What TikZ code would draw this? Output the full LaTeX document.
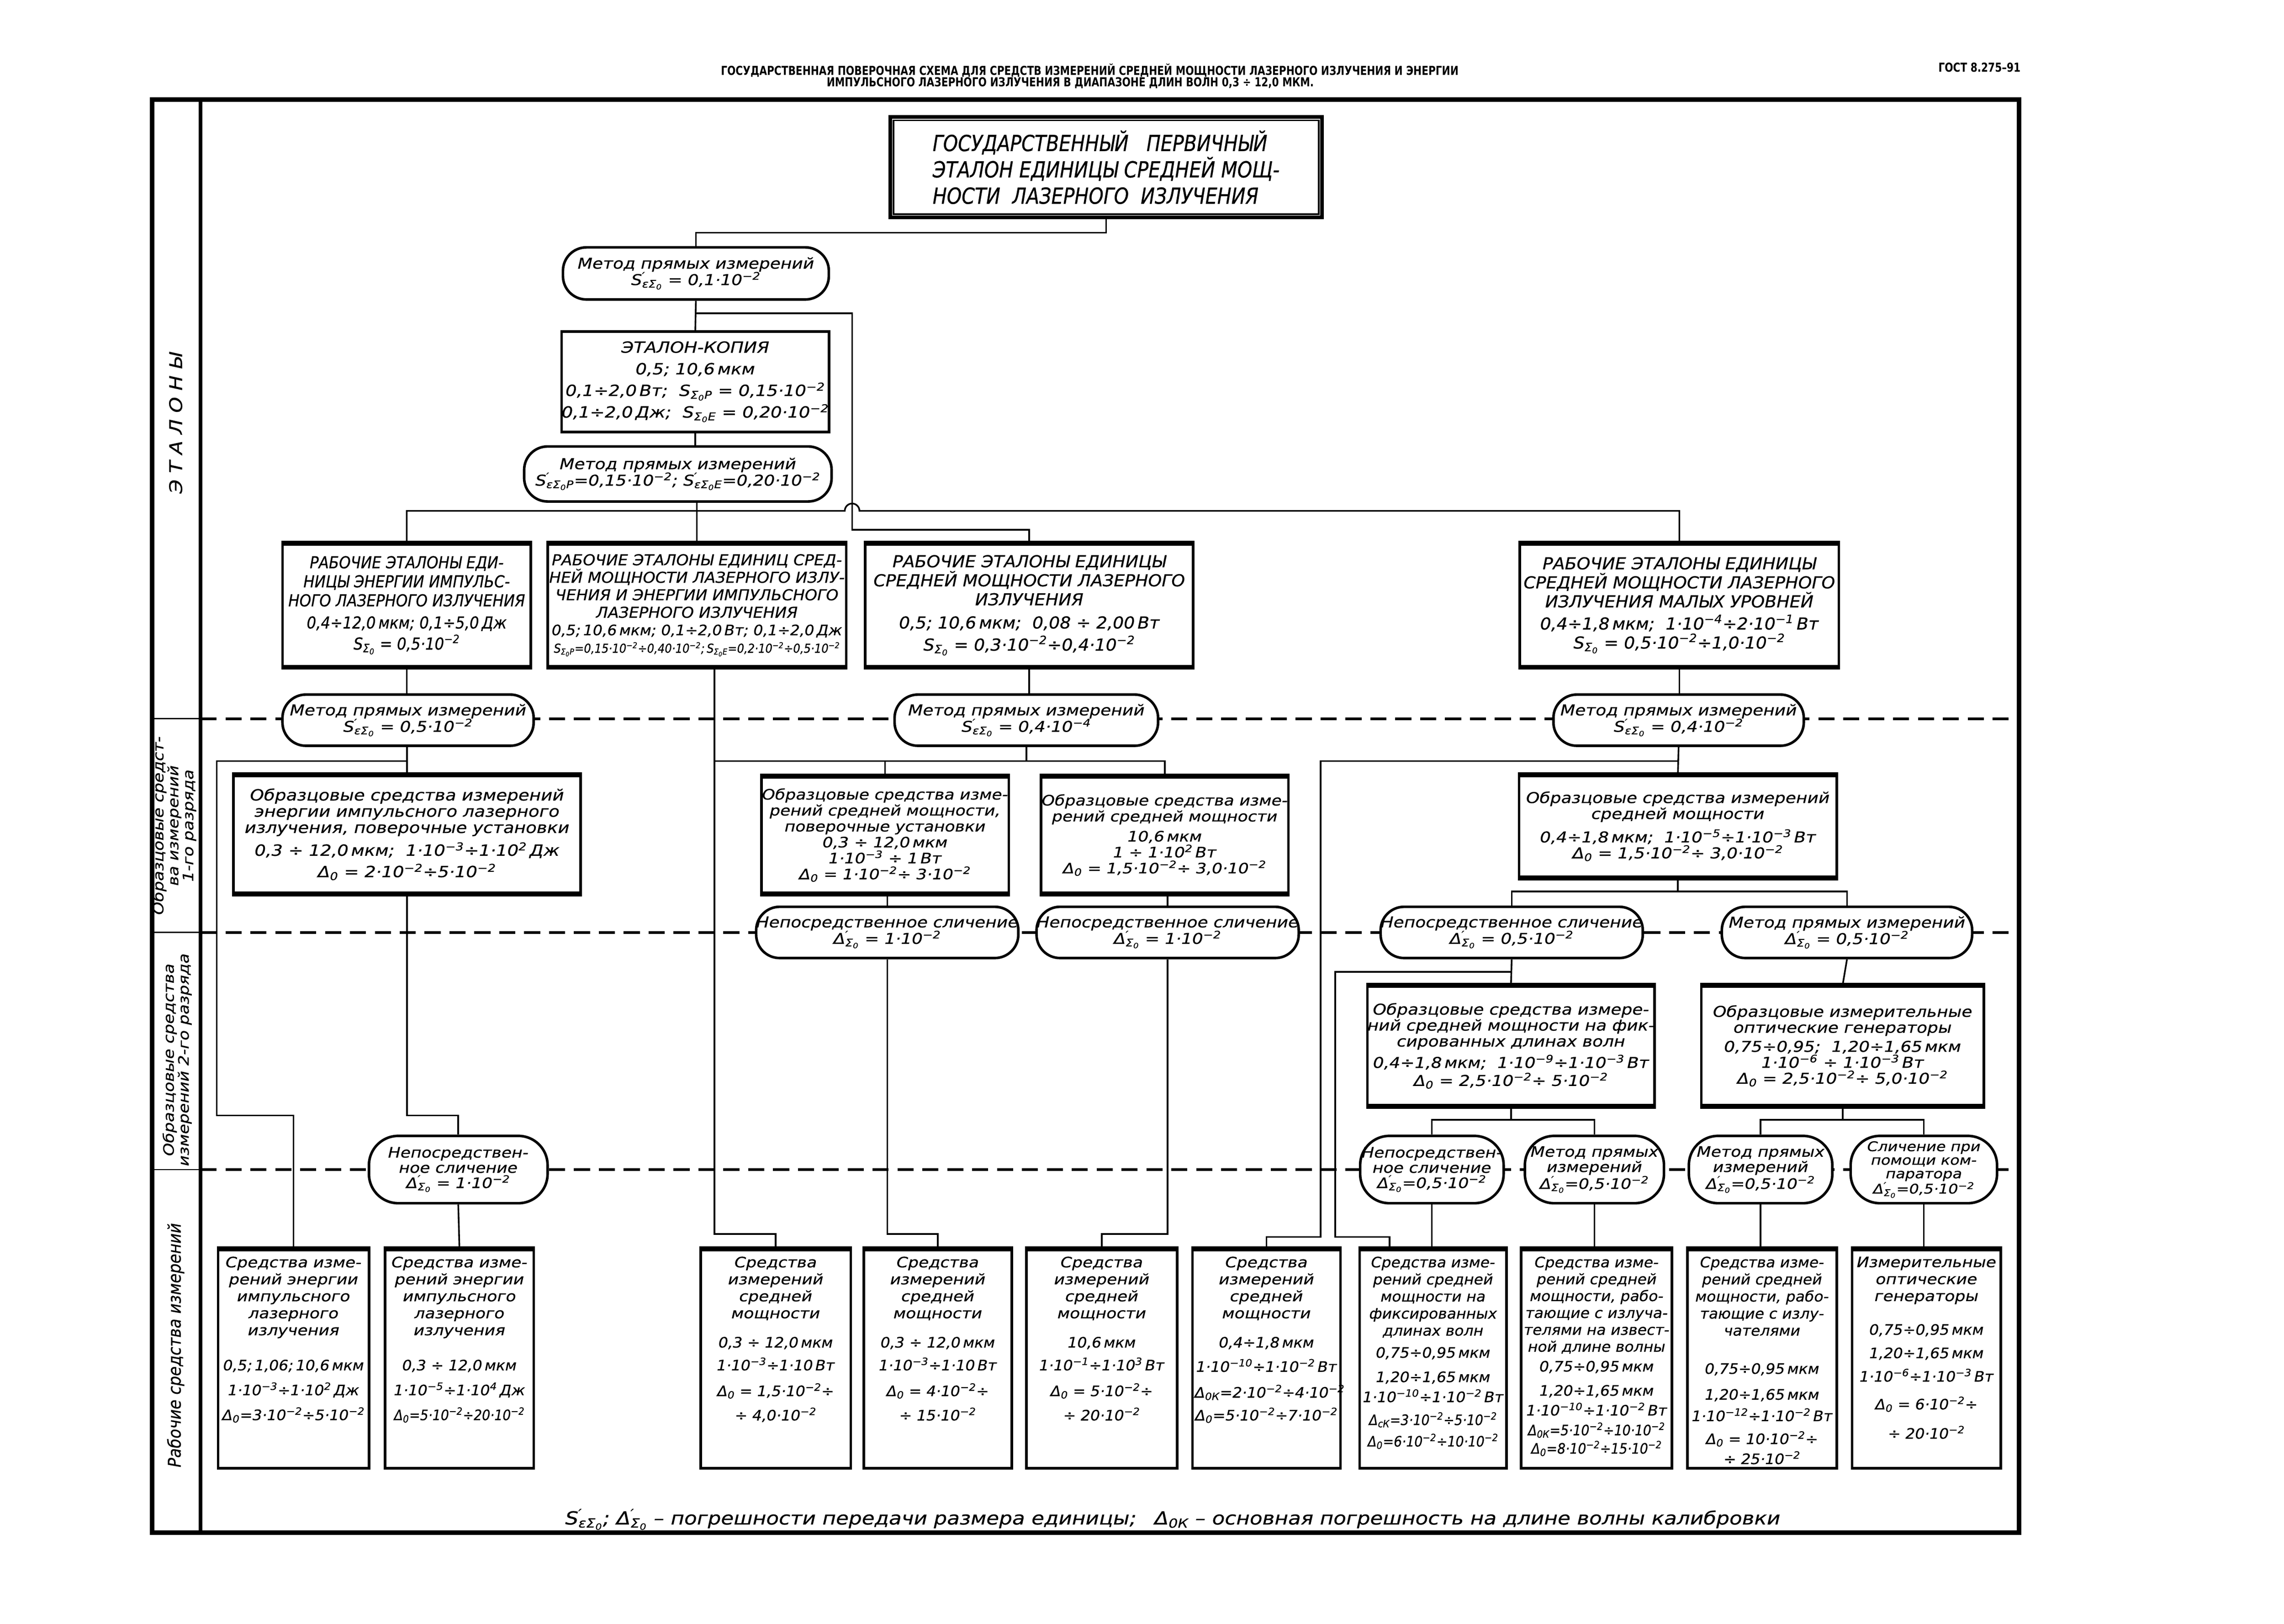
\documentclass[tikz,border=0pt]{standalone}
\usepackage{fontspec}
\newfontfamily\gostt{DejaVu Sans}[FakeStretch=0.85, FakeBold=0.6]
\newfontfamily\gostn{DejaVu Sans}[FakeStretch=0.9, FakeBold=0.6]
\newfontfamily\gostm{DejaVu Sans}[FakeStretch=1.05, FakeBold=0.6]
\newfontfamily\gostw{DejaVu Sans}[FakeStretch=1.15, FakeBold=0.6]
\newfontfamily\headf{DejaVu Sans}[FakeStretch=0.8]
\newcommand{\pw}[1]{\textsuperscript{#1}}
\newcommand{\ix}[1]{\textsubscript{#1}}
\newcommand{\dS}[1][]{S\rlap{\pw{′}}\ix{εΣ\ix{0}#1}}
\newcommand{\dD}{Δ\rlap{\pw{′}}\ix{Σ\ix{0}}}
\newcommand{\sZ}[1][]{S\ix{Σ\ix{0}#1}}
\newcommand{\rtext}[2]{\parbox[t][7cm][t]{#1}{\centering #2}}
\tikzset{
  conn/.style={line width=1.6pt},
  etbox/.style={draw, line width=2.5pt, fill=white, align=center, inner sep=0pt,
    font=\gostn\itshape\fontsize{16}{18.5}\selectfont},
  obbox/.style={draw, line width=2.5pt, fill=white, align=center, inner sep=0pt,
    font=\gostw\itshape\fontsize{14.5}{15.5}\selectfont},
  meth/.style={draw, line width=2.5pt, fill=white, rounded corners=0.8cm, align=center,
    inner sep=0pt, font=\gostw\itshape\fontsize{14.5}{16}\selectfont},
  tallmeth/.style={meth, rounded corners=1cm, minimum height=2.3cm,
    font=\gostw\itshape\fontsize{14}{14.8}\selectfont},
  rbox/.style={draw, line width=2.5pt, fill=white, inner sep=0pt, minimum height=7.45cm,
    font=\gostw\itshape\fontsize{14}{16.5}\selectfont},
  rowline/.style={line width=2.8pt, dash pattern=on 0.55cm off 0.3cm},
  sidelab/.style={rotate=90, align=center, font=\gostw\itshape\fontsize{14}{14.5}\selectfont},
  headlab/.style={font=\headf\bfseries\fontsize{12}{12.5}\selectfont, inner sep=0pt},
}
\begin{document}
\begin{tikzpicture}[x=0.05cm, y=-0.05cm]
\useasboundingbox (0,0) rectangle (1560,1109.3);

% заголовок
\node[headlab] (hd1) at (744.3,48) {ГОСУДАРСТВЕННАЯ ПОВЕРОЧНАЯ СХЕМА ДЛЯ СРЕДСТВ ИЗМЕРЕНИЙ СРЕДНЕЙ МОЩНОСТИ ЛАЗЕРНОГО ИЗЛУЧЕНИЯ И ЭНЕРГИИ};
\node[headlab] (hd2) at (731,56.5) {ИМПУЛЬСНОГО ЛАЗЕРНОГО ИЗЛУЧЕНИЯ В ДИАПАЗОНЕ ДЛИН ВОЛН 0,3 ÷ 12,0 МКМ.};
\node[headlab] (gost) at (1352,46) {ГОСТ 8.275–91};

% рамка и уровни
\draw[line width=4.5pt] (104,68) rectangle (1379,1047);
\draw[line width=3.5pt] (137,68) -- (137,1047);
\foreach \yy in {491,637,799} {
  \draw[rowline] (137,\yy) -- (1379,\yy);
  \draw[line width=1.2pt] (104,\yy) -- (137,\yy);
}

\node[sidelab, font=\gostw\itshape\fontsize{17}{18}\selectfont] (labet) at (120,289) {Э\ Т\ А\ Л\ О\ Н\ Ы};
\node[sidelab] (labob1) at (119,564) {Образцовые средст-\\ва измерений\\1-го разряда};
\node[sidelab] (labob2) at (121,724) {Образцовые средства\\измерений 2-го разряда};
\node[sidelab, font=\gostn\itshape\fontsize{17}{18}\selectfont] (labrab) at (120,919) {Рабочие средства измерений};

% эталоны
\node[draw, line width=3.5pt, fill=white, minimum width=14.75cm, minimum height=3.43cm, align=left,
  font=\gostt\itshape\fontsize{21.5}{25.6}\selectfont] (top) at (755.5,114.3)
  {ГОСУДАРСТВЕННЫЙ\ \ \ ПЕРВИЧНЫЙ\\ЭТАЛОН ЕДИНИЦЫ СРЕДНЕЙ МОЩ-\\НОСТИ\ \ ЛАЗЕРНОГО\ \ ИЗЛУЧЕНИЯ};
\draw[line width=1.4pt] ([shift={(3.5,3.5)}]top.north west) rectangle ([shift={(-3.5,-3.5)}]top.south east);

\node[meth, minimum width=9.08cm, minimum height=1.78cm] (m1) at (475.3,186.8)
  {Метод прямых измерений\\\dS\ = 0,1·10\pw{−2}};
\node[obbox, minimum width=9.12cm, minimum height=3.43cm, font=\gostw\itshape\fontsize{15}{21}\selectfont] (ek) at (474.9,260.8)
  {ЭТАЛОН-КОПИЯ\\0,5;\ 10,6\,мкм\\0,1÷2,0\,Вт;\ \ \sZ[P] = 0,15·10\pw{−2}\\0,1÷2,0\,Дж;\ \ \sZ[E] = 0,20·10\pw{−2}};
\node[meth, minimum width=10.5cm, minimum height=1.88cm] (m2p) at (463,323.8)
  {Метод прямых измерений\\\dS[P]=0,15·10\pw{−2};\ \dS[E]=0,20·10\pw{−2}};

\node[etbox, minimum width=8.48cm, minimum height=4.15cm] (wa) at (277.8,413.5)
  {РАБОЧИЕ ЭТАЛОНЫ ЕДИ-\\НИЦЫ ЭНЕРГИИ ИМПУЛЬС-\\НОГО ЛАЗЕРНОГО ИЗЛУЧЕНИЯ\\[3pt]0,4÷12,0\,мкм;\ 0,1÷5,0\,Дж\\[2pt]\sZ\ = 0,5·10\pw{−2}};
\node[etbox, minimum width=10.2cm, minimum height=4.15cm, font=\gostm\itshape\fontsize{14.6}{17}\selectfont] (wb) at (476,413.5)
  {РАБОЧИЕ ЭТАЛОНЫ ЕДИНИЦ СРЕД-\\НЕЙ МОЩНОСТИ ЛАЗЕРНОГО ИЗЛУ-\\ЧЕНИЯ И ЭНЕРГИИ ИМПУЛЬСНОГО\\ЛАЗЕРНОГО ИЗЛУЧЕНИЯ\\{\fontsize{14}{17}\selectfont 0,5;\,10,6\,мкм;\ 0,1÷2,0\,Вт;\ 0,1÷2,0\,Дж}\\
  {\gostn\fontsize{12}{13}\selectfont\sZ[P]=0,15·10\pw{−2}÷0,40·10\pw{−2};\,\sZ[E]=0,2·10\pw{−2}÷0,5·10\pw{−2}}};
\node[etbox, minimum width=11.2cm, minimum height=4.15cm, font=\gostm\itshape\fontsize{16}{18.5}\selectfont] (wc) at (703,413.5)
  {РАБОЧИЕ ЭТАЛОНЫ ЕДИНИЦЫ\\СРЕДНЕЙ МОЩНОСТИ ЛАЗЕРНОГО\\ИЗЛУЧЕНИЯ\\[4pt]0,5;\ 10,6\,мкм;\ \ 0,08 ÷ 2,00\,Вт\\[3pt]\sZ\ = 0,3·10\pw{−2}÷0,4·10\pw{−2}};
\node[etbox, minimum width=10.9cm, minimum height=4.15cm, font=\gostm\itshape\fontsize{16}{18.5}\selectfont] (wd) at (1147,413.5)
  {РАБОЧИЕ ЭТАЛОНЫ ЕДИНИЦЫ\\СРЕДНЕЙ МОЩНОСТИ ЛАЗЕРНОГО\\ИЗЛУЧЕНИЯ МАЛЫХ УРОВНЕЙ\\[3pt]0,4÷1,8\,мкм;\ \ 1·10\pw{−4}÷2·10\pw{−1}\,Вт\\\sZ\ = 0,5·10\pw{−2}÷1,0·10\pw{−2}};

% образцовые 1-го разряда
\node[meth, minimum width=8.58cm, minimum height=1.75cm] (l1) at (278.7,492)
  {Метод прямых измерений\\\dS\ = 0,5·10\pw{−2}};
\node[meth, minimum width=9.0cm, minimum height=1.75cm] (mm) at (701,492)
  {Метод прямых измерений\\\dS\ = 0,4·10\pw{−4}};
\node[meth, minimum width=8.55cm, minimum height=1.75cm] (mrt) at (1146.5,492)
  {Метод прямых измерений\\\dS\ = 0,4·10\pw{−2}};

\node[obbox, minimum width=11.85cm, minimum height=4.0cm, font=\gostw\itshape\fontsize{15}{15.8}\selectfont] (es) at (278,570)
  {Образцовые средства измерений\\энергии импульсного лазерного\\излучения, поверочные установки\\[5pt]0,3 ÷ 12,0\,мкм;\ \ 1·10\pw{−3}÷1·10\pw{2}\,Дж\\[5pt]Δ\ix{0} = 2·10\pw{−2}÷5·10\pw{−2}};
\node[obbox, minimum width=8.45cm, minimum height=3.95cm, font=\gostw\itshape\fontsize{14}{15.5}\selectfont] (om1) at (604.5,570.5)
  {Образцовые средства изме-\\рений средней мощности,\\поверочные установки\\0,3 ÷ 12,0\,мкм\\1·10\pw{−3} ÷ 1\,Вт\\Δ\ix{0} = 1·10\pw{−2}÷ 3·10\pw{−2}};
\node[obbox, minimum width=8.45cm, minimum height=3.95cm, font=\gostw\itshape\fontsize{14}{15.5}\selectfont] (om2) at (795.5,570.5)
  {Образцовые средства изме-\\рений средней мощности\\[4pt]10,6\,мкм\\1 ÷ 1·10\pw{2}\,Вт\\Δ\ix{0} = 1,5·10\pw{−2}÷ 3,0·10\pw{−2}};
\node[obbox, minimum width=10.85cm, minimum height=3.45cm] (or1) at (1146,564.5)
  {Образцовые средства измерений\\средней мощности\\[6pt]0,4÷1,8\,мкм;\ \ 1·10\pw{−5}÷1·10\pw{−3}\,Вт\\Δ\ix{0} = 1,5·10\pw{−2}÷ 3,0·10\pw{−2}};

\node[meth, minimum width=8.4cm, minimum height=1.75cm] (ns1) at (606,637)
  {Непосредственное сличение\\\dD\ = 1·10\pw{−2}};
\node[meth, minimum width=8.45cm, minimum height=1.75cm] (ns2) at (797.5,637)
  {Непосредственное сличение\\\dD\ = 1·10\pw{−2}};
\node[meth, minimum width=8.35cm, minimum height=1.75cm] (ns3) at (1032.5,637)
  {Непосредственное сличение\\\dD\ = 0,5·10\pw{−2}};
\node[meth, minimum width=8.55cm, minimum height=1.75cm] (mr) at (1261.5,637)
  {Метод прямых измерений\\\dD\ = 0,5·10\pw{−2}};

% образцовые 2-го разряда
\node[obbox, minimum width=9.65cm, minimum height=4.05cm] (of) at (1032,714.5)
  {Образцовые средства измере-\\ний средней мощности на фик-\\сированных длинах волн\\[4pt]0,4÷1,8\,мкм;\ \ 1·10\pw{−9}÷1·10\pw{−3}\,Вт\\[2pt]Δ\ix{0} = 2,5·10\pw{−2}÷ 5·10\pw{−2}};
\node[obbox, minimum width=9.65cm, minimum height=4.05cm] (og) at (1258.5,714.5)
  {Образцовые измерительные\\оптические генераторы\\[3pt]0,75÷0,95;\ \ 1,20÷1,65\,мкм\\1·10\pw{−6} ÷ 1·10\pw{−3}\,Вт\\Δ\ix{0} = 2,5·10\pw{−2}÷ 5,0·10\pw{−2}};

\node[tallmeth, minimum width=6.1cm] (nsl) at (313,799)
  {Непосредствен-\\ное сличение\\\dD\ = 1·10\pw{−2}};
\node[tallmeth, minimum width=4.9cm] (na) at (978,799)
  {Непосредствен-\\ное сличение\\\dD=0,5·10\pw{−2}};
\node[tallmeth, minimum width=4.75cm] (nb) at (1089,799)
  {Метод прямых\\измерений\\\dD=0,5·10\pw{−2}};
\node[tallmeth, minimum width=4.9cm] (nc) at (1202.5,799)
  {Метод прямых\\измерений\\\dD=0,5·10\pw{−2}};
\node[tallmeth, minimum width=5.0cm, font=\gostw\itshape\fontsize{13}{13.2}\selectfont] (nd) at (1314,799)
  {Сличение при\\помощи ком-\\паратора\\\dD=0,5·10\pw{−2}};

% рабочие средства измерений
\node[rbox, minimum width=5.15cm] (w1) at (200.5,928.5) {\rtext{5.0cm}{Средства изме-\\рений энергии\\импульсного\\лазерного\\излучения\\[0.62cm]\gostm 0,5;\,1,06;\,10,6\,мкм\\[0.27cm]1·10\pw{−3}÷1·10\pw{2}\,Дж\\[0.27cm]Δ\ix{0}=3·10\pw{−2}÷5·10\pw{−2}}};
\node[rbox, minimum width=5.08cm] (w2) at (313.8,928.5) {\rtext{4.95cm}{Средства изме-\\рений энергии\\импульсного\\лазерного\\излучения\\[0.62cm]\gostm 0,3 ÷ 12,0\,мкм\\[0.27cm]1·10\pw{−5}÷1·10\pw{4}\,Дж\\[0.27cm]{\gostn Δ\ix{0}=5·10\pw{−2}÷20·10\pw{−2}}}};
\node[rbox, minimum width=5.13cm] (w3) at (529.8,928.5) {\rtext{5.0cm}{Средства\\измерений\\средней\\мощности\\[0.42cm]\gostm 0,3 ÷ 12,0\,мкм\\[0.2cm]1·10\pw{−3}÷1·10\,Вт\\[0.3cm]Δ\ix{0} = 1,5·10\pw{−2}÷\\[0.25cm]÷ 4,0·10\pw{−2}}};
\node[rbox, minimum width=5.05cm] (w4) at (640.5,928.5) {\rtext{4.9cm}{Средства\\измерений\\средней\\мощности\\[0.42cm]\gostm 0,3 ÷ 12,0\,мкм\\[0.2cm]1·10\pw{−3}÷1·10\,Вт\\[0.3cm]Δ\ix{0} = 4·10\pw{−2}÷\\[0.25cm]÷ 15·10\pw{−2}}};
\node[rbox, minimum width=5.15cm] (w5) at (752.5,928.5) {\rtext{5.0cm}{Средства\\измерений\\средней\\мощности\\[0.42cm]\gostm 10,6\,мкм\\[0.2cm]1·10\pw{−1}÷1·10\pw{3}\,Вт\\[0.3cm]Δ\ix{0} = 5·10\pw{−2}÷\\[0.25cm]÷ 20·10\pw{−2}}};
\node[rbox, minimum width=5.05cm] (w6) at (865,928.5) {\rtext{4.9cm}{Средства\\измерений\\средней\\мощности\\[0.42cm]\gostm 0,4÷1,8\,мкм\\[0.25cm]1·10\pw{−10}÷1·10\pw{−2}\,Вт\\[0.3cm]Δ\ix{0К}=2·10\pw{−2}÷4·10\pw{−2}\\[0.2cm]Δ\ix{0}=5·10\pw{−2}÷7·10\pw{−2}}};
\node[rbox, minimum width=5.02cm, font=\gostm\itshape\fontsize{14}{16.6}\selectfont] (w7) at (978.8,928.5) {\rtext{4.9cm}{Средства изме-\\рений средней\\мощности на\\фиксированных\\длинах волн\\[0.17cm]0,75÷0,95\,мкм\\[0.25cm]1,20÷1,65\,мкм\\[0.1cm]1·10\pw{−10}÷1·10\pw{−2}\,Вт\\[0.2cm]{\gostn Δ\ix{сК}=3·10\pw{−2}÷5·10\pw{−2}}\\[0.15cm]{\gostn Δ\ix{0}=6·10\pw{−2}÷10·10\pw{−2}}}};
\node[rbox, minimum width=5.15cm, font=\gostm\itshape\fontsize{14}{16.4}\selectfont] (w8) at (1090.5,928.5) {\rtext{5.05cm}{Средства изме-\\рений средней\\мощности, рабо-\\тающие с излуча-\\телями на извест-\\ной длине волны\\[0.1cm]0,75÷0,95\,мкм\\[0.25cm]1,20÷1,65\,мкм\\[0.1cm]1·10\pw{−10}÷1·10\pw{−2}\,Вт\\[0.1cm]{\gostn Δ\ix{0К}=5·10\pw{−2}÷10·10\pw{−2}}\\[0.05cm]{\gostn Δ\ix{0}=8·10\pw{−2}÷15·10\pw{−2}}}};
\node[rbox, minimum width=5.1cm, font=\gostm\itshape\fontsize{14}{16.6}\selectfont] (w9) at (1203.5,928.5) {\rtext{5.0cm}{Средства изме-\\рений средней\\мощности, рабо-\\тающие с излу-\\чателями\\[0.72cm]0,75÷0,95\,мкм\\[0.3cm]1,20÷1,65\,мкм\\[0.15cm]1·10\pw{−12}÷1·10\pw{−2}\,Вт\\[0.2cm]Δ\ix{0} = 10·10\pw{−2}÷\\[0.1cm]÷ 25·10\pw{−2}}};
\node[rbox, minimum width=5.08cm] (w10) at (1315.8,928.5) {\rtext{4.95cm}{Измерительные\\оптические\\генераторы\\[0.57cm]\gostm 0,75÷0,95\,мкм\\[0.22cm]1,20÷1,65\,мкм\\[0.22cm]1·10\pw{−6}÷1·10\pw{−3}\,Вт\\[0.37cm]Δ\ix{0} = 6·10\pw{−2}÷\\[0.42cm]÷ 20·10\pw{−2}}};

% утолщенные кромки
\foreach \n in {wa,wb,wc,wd,es,om1,om2,or1,of,og}
  \draw[line width=4.5pt] (\n.north west) -- (\n.north east) (\n.south west) -- (\n.south east);
\foreach \n in {w1,w2,w3,w4,w5,w6,w7,w8,w9,w10}
  \draw[line width=4.5pt] (\n.north west) -- (\n.north east);

% уровни связей
\coordinate (lv1) at (0,159);
\coordinate (lv2) at (0,214);
\coordinate (lvbus) at (0,349);
\coordinate (lvc) at (0,362);
\coordinate (lvl) at (0,520);
\coordinate (lvlow) at (0,762);
\coordinate (lvw) at (0,843);
\coordinate (lvor) at (0,609);
\coordinate (lvns) at (0,664);
\coordinate (lvof) at (0,765);
\coordinate (lvw6) at (0,845);
\coordinate (byp) at (582,214);
\coordinate (hop) at (577,349);
\coordinate (mbus) at (488,520);
\coordinate (rbus) at (902,520);
\coordinate (lbus) at (148,520);

% связи
\draw[conn] (top.south) |- (m1.north |- lv1) -- (m1.north);
\draw[conn] (m1.south) -- (ek.north);
\draw[conn] (m1.south |- byp) -- (byp) |- (wc.north |- lvc) -- (wc.north);
\draw[conn] (ek.south) -- (ek.south |- m2p.north);
\draw[conn] (wb.north |- m2p.south) -- (wb.north);
\draw[conn] (wa.north) |- (hop) arc[start angle=180, end angle=0, radius=0.25cm]
  -- (wd.north |- lvbus) -- (wd.north);

\draw[conn] (wa.south) -- (wa.south |- l1.north);
\draw[conn] (wc.south) -- (wc.south |- mm.north);
\draw[conn] (wd.south) -- (wd.south |- mrt.north);
\draw[conn] (mbus |- wb.south) -- (mbus);

\draw[conn] (es.north |- l1.south) -- (es.north);
\draw[conn] (l1.south |- lvl) -- (lbus) |- (w1.north |- lvlow) -- (w1.north);
\draw[conn] (es.south) |- (nsl.north |- lvlow) -- (nsl.north);
\draw[conn] (nsl.south) -- (w2.north);

\draw[conn] (mm.south) -- (mm.south |- lvl);
\draw[conn] (mbus) -| (om2.north);
\draw[conn] (om1.north) -- (om1.north |- mbus);
\draw[conn] (mbus) |- (w3.north |- lvw) -- (w3.north);
\draw[conn] (ns1.north |- om1.south) -- (ns1.north);
\draw[conn] (ns2.north |- om2.south) -- (ns2.north);
\draw[conn] (ns1.south) |- (w4.north |- lvw) -- (w4.north);
\draw[conn] (ns2.south) |- (w5.north |- lvw) -- (w5.north);

\draw[conn] (mrt.south) -- (or1.north);
\draw[conn] (mrt.south |- rbus) -- (rbus) |- (w6.north |- lvw6) -- (w6.north);
\draw[conn] (or1.south) -- (or1.south |- lvor);
\draw[conn] (ns3.north) |- (mr.north |- lvor) -- (mr.north);
\draw[conn] (ns3.south) -- (of.north);
\draw[conn] (ns3.south |- lvns) -| (912,845) -| ([xshift=-1.49cm]w7.north);
\draw[conn] (mr.south) -- (og.north);
\draw[conn] (of.south) -- (of.south |- lvof);
\draw[conn] (na.north) |- (nb.north |- lvof) -- (nb.north);
\draw[conn] (og.south) -- (og.south |- lvof);
\draw[conn] (nc.north) |- (nd.north |- lvof) -- (nd.north);
\draw[conn] (na.south) -- (na.south |- w7.north);
\draw[conn] (nb.south) -- (nb.south |- w8.north);
\draw[conn] (nc.south) -- (nc.south |- w9.north);
\draw[conn] (nd.south) -- (nd.south |- w10.north);

% примечание
\node[font=\gostw\itshape\fontsize{17.5}{19}\selectfont] (foot) at (801,1038)
  {\dS;\ \dD\ – погрешности передачи размера единицы;\quad Δ\ix{0К} – основная погрешность на длине волны калибровки};
\end{tikzpicture}
\end{document}
